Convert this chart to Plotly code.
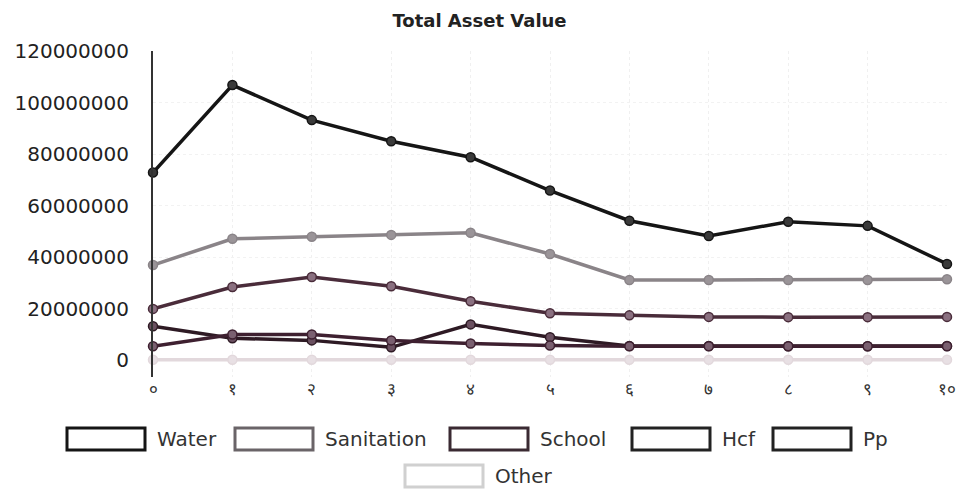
import plotly.graph_objects as go

x_labels = ["०", "१", "२", "३", "४", "५", "६", "७", "८", "९", "१०"]
x_vals = list(range(11))

water = [72.9e6, 106.8e6, 93.2e6, 85.0e6, 78.8e6, 65.9e6, 54.2e6, 48.3e6, 53.8e6, 52.2e6, 37.4e6]
sanitation = [37.0e6, 47.2e6, 48.0e6, 48.7e6, 49.5e6, 41.3e6, 31.2e6, 31.2e6, 31.2e6, 31.2e6, 31.5e6]
school = [20.0e6, 28.5e6, 32.4e6, 28.8e6, 23.0e6, 18.3e6, 17.5e6, 16.9e6, 16.8e6, 16.8e6, 16.9e6]
hcf = [13.3e6, 8.6e6, 7.8e6, 5.1e6, 14.0e6, 9.0e6, 5.6e6, 5.6e6, 5.5e6, 5.5e6, 5.6e6]
pp = [5.5e6, 10.1e6, 10.1e6, 7.8e6, 6.6e6, 5.8e6, 5.5e6, 5.5e6, 5.5e6, 5.5e6, 5.5e6]
other = [0.3e6] * 11

y_tickvals = [0, 20e6, 40e6, 60e6, 80e6, 100e6, 120e6]
y_ticktext = ["0", "20000000", "40000000", "60000000", "80000000", "100000000", "120000000"]

series_names = ["Water", "Sanitation", "School", "Hcf", "Pp", "Other"]
series_values = [water, sanitation, school, hcf, pp, other]
line_colors = ["#151515", "#8a8488", "#4a2c3a", "#2e1a24", "#3e2030", "#e2d8dc"]
marker_colors = ["#3a3a3a", "#9a9498", "#8a7080", "#6a5060", "#7a6070", "#e8e0e4"]
legend_colors = ["#151515", "#6a6468", "#3a2a32", "#222222", "#222222", "#d0d0d0"]

# plot-area geometry in pixels (layout, not data)
W, H = 959, 489
PL, PR, PT, PB = 153, 947, 51, 377


def px_x(px):
    return (px - PL) / (PR - PL)


def px_y(py):
    return (PB - py) / (PB - PT)


# legend layout: (box left, box top) in pixels
legend_pos = [(67, 428), (235, 428), (450, 428), (632, 428), (773, 428), (405, 465)]
BOX_W, BOX_H = 78, 22

fig = go.Figure()
for name, vals, col, mcol in zip(series_names, series_values, line_colors, marker_colors):
    fig.add_trace(go.Scatter(
        x=x_vals, y=vals, mode="lines+markers", name=name,
        line=dict(color=col, width=3.5),
        marker=dict(size=9, color=mcol, line=dict(color=col, width=1.5)),
        cliponaxis=False, showlegend=False,
    ))

shapes = []
annotations = []
for name, col, (bx, by) in zip(series_names, legend_colors, legend_pos):
    shapes.append(dict(type="rect", xref="paper", yref="paper",
                       x0=px_x(bx), x1=px_x(bx + BOX_W),
                       y0=px_y(by + BOX_H), y1=px_y(by),
                       line=dict(color=col, width=3), fillcolor="white"))
    annotations.append(dict(xref="paper", yref="paper", x=px_x(bx + BOX_W + 10),
                            y=px_y(by + BOX_H / 2), xanchor="left", yanchor="middle",
                            text=name, showarrow=False,
                            font=dict(size=20, color="#333")))

fig.update_layout(
    width=W, height=H,
    margin=dict(l=PL, r=W - PR, t=PT, b=H - PB, autoexpand=False),
    paper_bgcolor="white", plot_bgcolor="white",
    font=dict(family="DejaVu Sans", size=18, color="#222"),
    title=dict(text="<b>Total Asset Value</b>", x=0.5, xanchor="center",
               y=1 - 21 / H, yanchor="middle", font=dict(size=18, color="#222")),
    xaxis=dict(range=[0, 10], tickvals=x_vals, ticktext=x_labels,
               showgrid=True, gridcolor="#f0f0f0", griddash="dot",
               zeroline=False, showline=False, ticks="", automargin=False,
               tickfont=dict(size=17, color="#333")),
    yaxis=dict(range=[-6.4e6, 120e6], tickvals=y_tickvals, ticktext=y_ticktext,
               showgrid=True, gridcolor="#f2f2f2", griddash="dot",
               zeroline=True, zerolinecolor="#d8ccd0", zerolinewidth=2,
               showline=True, linecolor="#333", linewidth=2, ticks="",
               ticklabelstandoff=18, automargin=False,
               tickfont=dict(size=20, color="#222")),
    showlegend=False,
    shapes=shapes,
    annotations=annotations,
)

fig.write_html(
    "out.html",
    config={"displayModeBar": False},
    post_script="document.body.style.margin='0';document.body.style.overflow='hidden';",
)
